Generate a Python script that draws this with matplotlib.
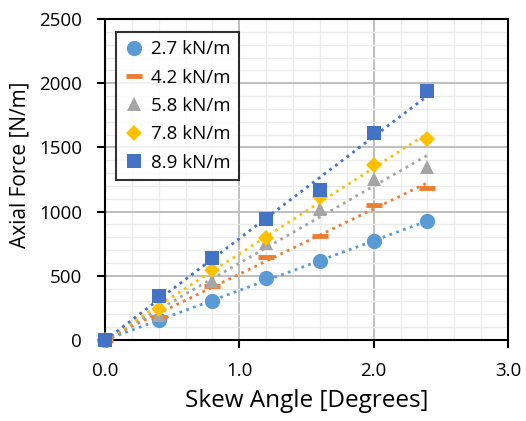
import numpy as np
import matplotlib.pyplot as plt
from matplotlib.ticker import MultipleLocator, FormatStrFormatter

plt.rcParams['font.family'] = ['Open Sans', 'DejaVu Sans']

# skew angle (degrees)
skew = [0.0, 0.4, 0.8, 1.2, 1.6, 2.0, 2.4]

# axial force [N/m] for each load level
force_27 = [0, 152, 300, 479, 617, 772, 925]
force_42 = [0, 180, 422, 650, 811, 1050, 1187]
force_58 = [0, 197, 456, 754, 1019, 1252, 1350]
force_78 = [0, 243, 547, 798, 1117, 1361, 1565]
force_89 = [0, 339, 642, 943, 1169, 1614, 1936]

labels = ["2.7 kN/m", "4.2 kN/m", "5.8 kN/m", "7.8 kN/m", "8.9 kN/m"]
colors = ["#5B9BD5", "#ED7D31", "#A5A5A5", "#FFC000", "#4472C4"]
markers = ["o", "_", "^", "D", "s"]
msizes = [11, 11, 10, 8, 10]

fig = plt.figure(figsize=(5.26, 4.21), dpi=100)
ax = fig.add_axes([0.1996, 0.1924, 0.7662, 0.7625])

series = [force_27, force_42, force_58, force_78, force_89]
x = np.array(skew)
for ys, lab, c, m, ms in zip(series, labels, colors, markers, msizes):
    ys = np.array(ys)
    # dotted linear trendline
    k, b = np.polyfit(x, ys, 1)
    xt = np.array([x.min(), x.max()])
    ax.plot(xt, k * xt + b, linestyle=(0, (1, 1.6)), color=c, lw=2, zorder=3)
    mew = 3.5 if m == "_" else 0
    ax.plot(x, ys, linestyle="none", marker=m, markersize=ms, color=c,
            markeredgewidth=mew, label=lab, zorder=4, clip_on=False)

ax.set_xlim(0, 3.0)
ax.set_ylim(0, 2500)
ax.xaxis.set_major_locator(MultipleLocator(1.0))
ax.xaxis.set_minor_locator(MultipleLocator(0.2))
ax.yaxis.set_major_locator(MultipleLocator(500))
ax.yaxis.set_minor_locator(MultipleLocator(100))
ax.xaxis.set_major_formatter(FormatStrFormatter("%.1f"))

ax.grid(which="major", color="#BFBFBF", lw=1.4, zorder=1)
ax.grid(which="minor", color="#EBEBEB", lw=1.0, zorder=0)
ax.set_axisbelow(True)

for s in ax.spines.values():
    s.set_color("black")
    s.set_linewidth(1.5)

ax.tick_params(which="major", direction="out", length=5.5, width=1.5,
               labelsize=13.5, colors="black")
ax.tick_params(axis="x", pad=10)
ax.tick_params(axis="y", pad=11)
ax.tick_params(which="minor", length=0)

ax.set_xlabel("Skew Angle [Degrees]", fontsize=17.5)
ax.set_ylabel("Axial Force [N/m]", fontsize=15)
ax.xaxis.set_label_coords(0.5, -0.153)
ax.yaxis.set_label_coords(-0.184, 0.547)

leg = ax.legend(loc="upper left", bbox_to_anchor=(0.028, 0.96), fontsize=13.5,
                frameon=True, fancybox=False, edgecolor="black",
                handlelength=1.0, handletextpad=0.4, borderpad=0.45,
                labelspacing=0.55, borderaxespad=0)
leg.get_frame().set_linewidth(1.5)

fig.savefig("out.png", dpi=100)
